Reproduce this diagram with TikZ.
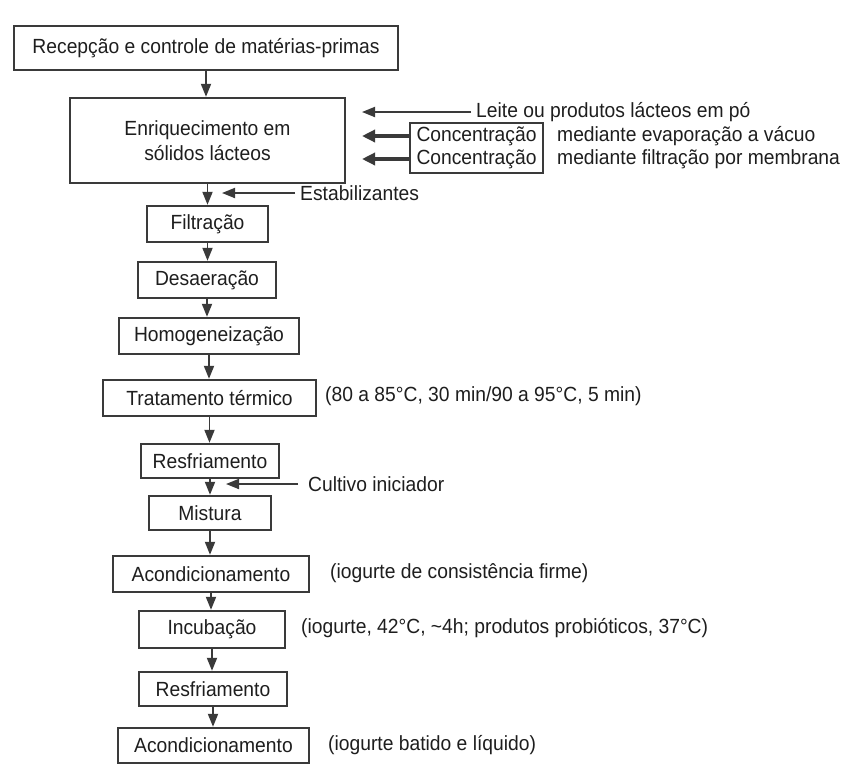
\documentclass[tikz,border=0pt]{standalone}
\usepackage{fontspec}
\setmainfont{Liberation Sans}[FakeStretch=0.94]
\usetikzlibrary{arrows.meta}
\definecolor{ln}{HTML}{3A3A3A}
\definecolor{tx}{HTML}{1E1E1E}
\begin{document}
\begin{tikzpicture}[x=1pt,y=-1pt,
  every node/.style={text=tx,font=\fontsize{20.5}{24}\selectfont},
  stepbox/.style={draw=ln,line width=2.4pt,rectangle,inner sep=0pt,align=center},
  flow/.style={draw=ln,line width=1.8pt,-{Triangle[length=13pt,width=10pt]}},
  thick flow/.style={draw=ln,line width=3.4pt,-{Triangle[length=13pt,width=12pt]}},
  note/.style={anchor=west,inner sep=0pt}]
\useasboundingbox (0,0) rectangle (851,772);
\fill[white] (0,0) rectangle (851,772);
\node[stepbox,minimum width=384pt,minimum height=44pt] (b1) at (206,48) {Recepção e controle de matérias-primas};
\node[stepbox,minimum width=275pt,minimum height=85pt,font=\fontsize{20.5}{25}\selectfont] (b2) at (207.5,140.5) {Enriquecimento em\\sólidos lácteos};
\node[stepbox,minimum width=121pt,minimum height=36pt] (b3) at (207.5,224) {Filtração};
\node[stepbox,minimum width=138pt,minimum height=36pt] (b4) at (207,280) {Desaeração};
\node[stepbox,minimum width=180pt,minimum height=36pt] (b5) at (209,336) {Homogeneização};
\node[stepbox,minimum width=213pt,minimum height=36pt] (b6) at (209.5,398) {Tratamento térmico};
\node[stepbox,minimum width=138pt,minimum height=34pt] (b7) at (210,461) {Resfriamento};
\node[stepbox,minimum width=122pt,minimum height=34pt] (b8) at (210,513) {Mistura};
\node[stepbox,minimum width=196pt,minimum height=36pt] (b9) at (211,574) {Acondicionamento};
\node[stepbox,minimum width=146pt,minimum height=37pt] (b10) at (212,629.5) {Incubação};
\node[stepbox,minimum width=148pt,minimum height=34pt] (b11) at (213,689) {Resfriamento};
\node[stepbox,minimum width=191pt,minimum height=35pt] (b12) at (213.5,745.5) {Acondicionamento};
% main flow
\foreach \a/\b in {b1/b2,b2/b3,b3/b4,b4/b5,b5/b6,b6/b7,b7/b8,b8/b9,b9/b10,b10/b11,b11/b12}
  \draw[flow] (\a.south) -- (\a.south |- \b.north);
% inputs to enrichment
\node[note] (leite) at (476,112) {Leite ou produtos lácteos em pó};
\coordinate (leiteend) at (362,112);
\draw[flow] ([xshift=-5pt]leite.west) -- (leiteend);
\node[stepbox,line width=1.6pt,minimum width=133pt,minimum height=50pt,font=\fontsize{20.5}{23}\selectfont] (conc) at (476.5,148) {Concentração\\Concentração};
\coordinate (c1) at (410,136);
\coordinate (c2) at (410,159);
\coordinate (c1e) at (362,136);
\coordinate (c2e) at (362,159);
\draw[thick flow] (c1) -- (c1e);
\draw[thick flow] (c2) -- (c2e);
\node[note] (m1) at (557,136) {mediante evaporação a vácuo};
\node[note] (m2) at (557,159) {mediante filtração por membrana};
% stabilizers
\node[note] (estab) at (300,193) {Estabilizantes};
\coordinate (estabend) at (222,193);
\draw[flow] ([xshift=-5pt]estab.west) -- (estabend);
% starter culture
\node[note] (cult) at (308,484) {Cultivo iniciador};
\coordinate (cultend) at (226,484);
\draw[flow] ([xshift=-10pt]cult.west) -- (cultend);
% notes
\node[note] (n6) at (325,396) {(80 a 85°C, 30 min/90 a 95°C, 5 min)};
\node[note] (n9) at (330,573) {(iogurte de consistência firme)};
\node[note] (n10) at (301,628) {(iogurte, 42°C, \textasciitilde4h; produtos probióticos, 37°C)};
\node[note] (n12) at (328,745) {(iogurte batido e líquido)};
\end{tikzpicture}
\end{document}
